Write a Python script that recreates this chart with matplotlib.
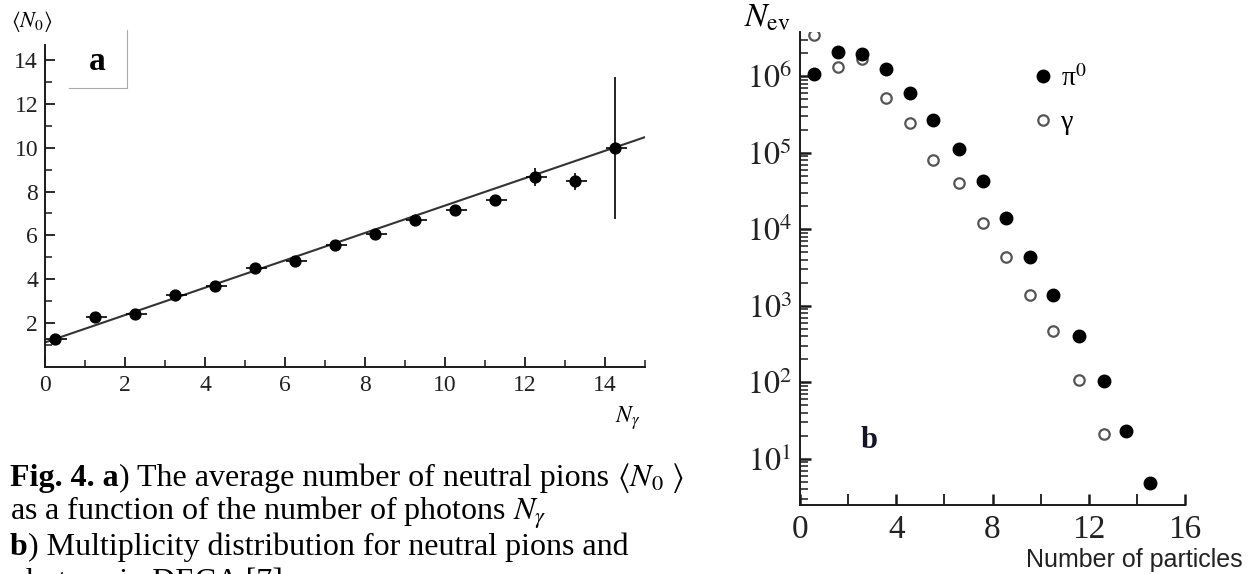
import math
import matplotlib
matplotlib.use("Agg")
import matplotlib.pyplot as plt
from matplotlib.ticker import FixedLocator, LogLocator, NullFormatter, FuncFormatter
from matplotlib.lines import Line2D

plt.rcParams['font.family'] = ['Liberation Serif', 'DejaVu Serif']
plt.rcParams['mathtext.fontset'] = 'stix'

# ---------------- data: panel a ----------------
n_gamma = [0.25, 1.25, 2.25, 3.25, 4.25, 5.25, 6.25, 7.25, 8.25, 9.25, 10.25, 11.25, 12.25, 13.25, 14.25]
mean_n0 = [1.27, 2.27, 2.43, 3.28, 3.69, 4.53, 4.82, 5.58, 6.07, 6.70, 7.15, 7.60, 8.65, 8.47, 9.98]
n0_err = [0.08, 0.08, 0.08, 0.08, 0.08, 0.08, 0.08, 0.08, 0.08, 0.08, 0.08, 0.08, 0.42, 0.38, 3.23]
x_err_lo = [0.22] * 15
x_err_hi = [0.30] * 15
fit_x = [0.0, 15.0]
fit_y = [1.12, 10.48]
a_xticks = [0, 2, 4, 6, 8, 10, 12, 14]
a_yticks = [2, 4, 6, 8, 10, 12, 14]

# ---------------- data: panel b ----------------
n_particles = [0.58, 1.56, 2.56, 3.59, 4.57, 5.54, 6.60, 7.60, 8.58, 9.57, 10.52, 11.59, 12.62, 13.55, 14.54]
n_ev_pi0 = [1.07e6, 2.06e6, 1.95e6, 1.23e6, 6.1e5, 2.7e5, 1.13e5, 4.3e4, 1.4e4, 4.35e3, 1.37e3, 406, 105, 23.3, 4.9]
n_ev_gamma = [3.47e6, 1.30e6, 1.69e6, 5.15e5, 2.45e5, 7.9e4, 4.0e4, 1.21e4, 4.35e3, 1.4e3, 463, 107, 21]
b_xticks = [0, 4, 8, 12, 16]
b_xminor = [2, 6, 10, 14]
b_yticks = [1e1, 1e2, 1e3, 1e4, 1e5, 1e6]

W, H = 1250, 574
fig = plt.figure(figsize=(W / 100, H / 100), dpi=100)
renderer = fig.canvas.get_renderer()

def fx(px):
    return px / W

def fy(py):
    return 1 - py / H

ink = '#1a1a1a'

# ---------------- panel a ----------------
ax = fig.add_axes([fx(45), fy(367), fx(645) - fx(45), fy(45) - fy(367)])
ax.plot(fit_x, fit_y, color='#333333', lw=1.5, zorder=2)
ax.errorbar(n_gamma, mean_n0, yerr=n0_err, xerr=[x_err_lo, x_err_hi], fmt='o',
            color='black', ms=7.8, elinewidth=1.2, capsize=0, zorder=3)
ax.set_xlim(0, 15)
ax.set_ylim(0, 14.68)
ax.xaxis.set_major_locator(FixedLocator(a_xticks))
ax.xaxis.set_minor_locator(FixedLocator([1, 3, 5, 7, 9, 11, 13, 15]))
ax.yaxis.set_major_locator(FixedLocator(a_yticks))
ax.yaxis.set_minor_locator(FixedLocator([1, 3, 5, 7, 9, 11, 13]))
for s in ['top', 'right']:
    ax.spines[s].set_visible(False)
for s in ['left', 'bottom']:
    ax.spines[s].set_linewidth(1.4)
    ax.spines[s].set_color(ink)
ax.tick_params(which='major', direction='in', length=7, width=1.3, color=ink,
               labelsize=17, labelcolor='#222222')
ax.tick_params(which='minor', direction='in', length=5, width=1.1, color=ink)
ax.tick_params(axis='x', which='major', pad=6)
ax.tick_params(axis='y', which='major', pad=5)

fig.text(fx(32), fy(22), r'$\langle N_0\rangle$', fontsize=16, ha='center', va='center')
fig.text(fx(628), fy(418), r'$N_\gamma$', fontsize=17, ha='center', va='center')

# "a" box
fig.add_artist(Line2D([fx(127), fx(127)], [fy(30), fy(88)], color='#aaaaaa', lw=0.8))
fig.add_artist(Line2D([fx(69), fx(127)], [fy(88), fy(88)], color='#aaaaaa', lw=0.8))
fig.text(fx(97), fy(62), 'a', fontsize=24, fontweight='bold', ha='center', va='center')

# ---------------- caption ----------------
cap_fs = 23

def caption_line(parts, x_px, base_px):
    x = x_px
    for txt, bold in parts:
        t = fig.text(fx(x), fy(base_px), txt, fontsize=cap_fs, ha='left', va='baseline',
                     fontweight='bold' if bold else 'normal')
        bb = t.get_window_extent(renderer=renderer)
        x += bb.width

caption_line([('Fig. 4. a', True), (') The average number of neutral pions ', False),
              (r'$\langle N_0\ \rangle$', False)], 10, 486)
caption_line([(r'as a function of the number of photons $N_\gamma$', False)], 10, 520)
caption_line([('b', True), (') Multiplicity distribution for neutral pions and', False)], 10, 555)
caption_line([('photons in DECA [7]', False)], 10, 590)

# ---------------- panel b ----------------
bx = fig.add_axes([fx(800), fy(505), fx(1185) - fx(800), fy(31.7) - fy(505)])
bx.set_yscale('log')
bx.plot(n_particles[:len(n_ev_gamma)], n_ev_gamma, 'o', ms=7.5, mfc='white', mec='#555555',
        mew=1.6, zorder=3, label='γ')
bx.plot(n_particles, n_ev_pi0, 'o', ms=9, color='black', zorder=4, label=r'π$^{0}$')
bx.set_xlim(0, 16)
bx.set_ylim(2.5, 3.8e6)
bx.xaxis.set_major_locator(FixedLocator(b_xticks))
bx.xaxis.set_minor_locator(FixedLocator(b_xminor))
bx.yaxis.set_major_locator(FixedLocator(b_yticks))
bx.yaxis.set_minor_locator(LogLocator(base=10, subs=range(2, 10), numticks=20))
bx.yaxis.set_minor_formatter(NullFormatter())
bx.yaxis.set_major_formatter(FuncFormatter(lambda v, p: r'$10^{%d}$' % round(math.log10(v))))
for s in ['top', 'right']:
    bx.spines[s].set_visible(False)
for s in ['left', 'bottom']:
    bx.spines[s].set_linewidth(1.4)
    bx.spines[s].set_color(ink)
bx.tick_params(which='major', direction='in', length=8, width=1.8, color=ink, labelcolor='#222222')
bx.tick_params(which='minor', direction='in', length=6, width=1.1, color=ink)
bx.tick_params(axis='x', which='minor', length=8, width=1.3)
bx.tick_params(axis='x', which='major', labelsize=24, pad=7)
bx.tick_params(axis='y', which='major', labelsize=23, pad=6)

handles, labels = bx.get_legend_handles_labels()
bx.legend(handles[::-1], labels[::-1], loc='upper left', bbox_to_anchor=(0.605, 0.93),
          frameon=False, fontsize=20, handlelength=0.7, handletextpad=0.3,
          labelspacing=0.65, borderpad=0, borderaxespad=0)

fig.text(fx(767), fy(18), r'$N_{\rm ev}$', fontsize=24, ha='center', va='center')
fig.text(fx(1243), fy(560), 'Number of particles', fontsize=18, ha='right', va='center',
         family=['Liberation Sans', 'DejaVu Sans'], color='#222222')
fig.text(fx(869), fy(440), 'b', fontsize=22, fontweight='bold', ha='center', va='center',
         color='#15152a')

fig.savefig('out.png', dpi=100)
